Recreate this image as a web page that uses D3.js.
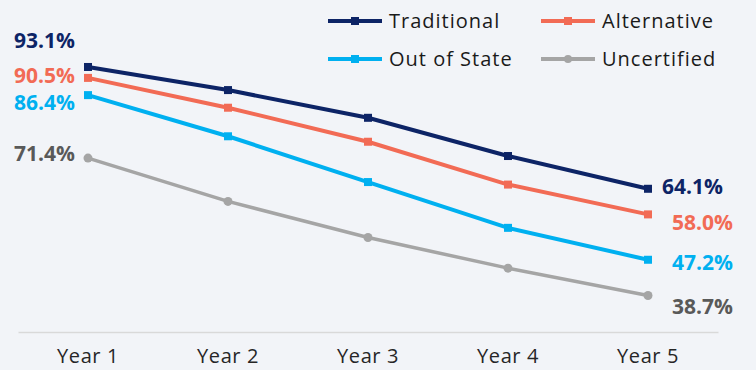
<!DOCTYPE html>
<html>
<head>
<meta charset="utf-8">
<script src="https://cdn.jsdelivr.net/npm/d3@7"></script>
<style>
  body { margin: 0; background: #f2f4f8; }
  svg { display: block; font-family: "Open Sans", sans-serif; }
</style>
</head>
<body>
<script>
// chart data
var years = ['Year 1', 'Year 2', 'Year 3', 'Year 4', 'Year 5'];
var seriesNames = ['Traditional', 'Alternative', 'Out of State', 'Uncertified'];
var traditional = [93.1, 87.6, 81.0, 71.9, 64.1];
var alternative = [90.5, 83.4, 75.3, 65.1, 58.0];
var outOfState = [86.4, 76.6, 65.7, 54.8, 47.2];
var uncertified = [71.4, 61.1, 52.5, 45.2, 38.7];

var colors = ['#0d2466', '#f26b55', '#00b0f0', '#a5a5a5'];
var labelColors = ['#0d2466', '#f26b55', '#00b0f0', '#595959'];
var markers = ['square', 'square', 'square', 'circle'];

var series = seriesNames.map(function(name, i) {
    return {
        name: name,
        values: [traditional, alternative, outOfState, uncertified][i],
        color: colors[i],
        labelColor: labelColors[i],
        marker: markers[i]
    };
});

var width = 756, height = 370;

var x = d3.scaleBand()
    .domain(years)
    .range([18, 718]);
var y = d3.scaleLinear()
    .domain([30, 100])
    .range([332, 38]);

var svg = d3.select('body').append('svg')
    .attr('width', width)
    .attr('height', height);

svg.append('rect')
    .attr('width', width)
    .attr('height', height)
    .attr('fill', '#f2f4f8');

// x axis
var xAxis = d3.axisBottom(x).tickSize(0).tickPadding(17);
var gx = svg.append('g')
    .attr('transform', 'translate(0,' + y(30) + ')')
    .call(xAxis);
gx.select('.domain').attr('stroke', '#d9d9d9').attr('stroke-width', 1.5);
gx.selectAll('text')
    .attr('font-size', 20)
    .attr('letter-spacing', 0.6)
    .attr('fill', '#262626')
    .attr('font-family', '"Open Sans", sans-serif');

function cx(d, i) { return x(years[i]) + x.bandwidth() / 2; }

var line = d3.line()
    .x(cx)
    .y(function(d) { return y(d); });

var g = svg.selectAll('.series')
    .data(series)
  .enter().append('g')
    .attr('class', 'series');

g.append('path')
    .attr('d', function(d) { return line(d.values); })
    .attr('fill', 'none')
    .attr('stroke', function(d) { return d.color; })
    .attr('stroke-width', function(d) { return d.marker === 'circle' ? 3.5 : 4; });

g.each(function(s) {
    var sel = d3.select(this);
    if (s.marker === 'square') {
        sel.selectAll('rect')
            .data(s.values)
          .enter().append('rect')
            .attr('x', function(d, i) { return cx(d, i) - 4; })
            .attr('y', function(d) { return y(d) - 4; })
            .attr('width', 8)
            .attr('height', 8)
            .attr('fill', s.color);
    } else {
        sel.selectAll('circle')
            .data(s.values)
          .enter().append('circle')
            .attr('cx', cx)
            .attr('cy', function(d) { return y(d); })
            .attr('r', 4.5)
            .attr('fill', s.color);
    }
});

// end labels (nudged so they don't collide)
var leftDy = [-26, -2, 8, -4];
var rightDx = [14, 24, 24, 24];
var rightDy = [-2, 8, 3, 11];

g.append('text')
    .attr('x', x(years[0]) + x.bandwidth() / 2 - 13)
    .attr('y', function(d, i) { return y(d.values[0]) + leftDy[i]; })
    .attr('dy', '0.35em')
    .attr('text-anchor', 'end')
    .attr('font-size', 21)
    .attr('font-weight', 700)
    .attr('fill', function(d) { return d.labelColor; })
    .text(function(d) { return d.values[0].toFixed(1) + '%'; });

g.append('text')
    .attr('x', function(d, i) { return x(years[4]) + x.bandwidth() / 2 + rightDx[i]; })
    .attr('y', function(d, i) { return y(d.values[4]) + rightDy[i]; })
    .attr('dy', '0.35em')
    .attr('font-size', 21)
    .attr('font-weight', 700)
    .attr('fill', function(d) { return d.labelColor; })
    .text(function(d) { return d.values[4].toFixed(1) + '%'; });

// legend
var legend = svg.append('g').attr('class', 'legend');
var legendX = [328, 541], legendY = [21, 59];
var li = legend.selectAll('g')
    .data(series)
  .enter().append('g')
    .attr('transform', function(d, i) {
        return 'translate(' + legendX[i % 2] + ',' + legendY[Math.floor(i / 2)] + ')';
    });
li.append('line')
    .attr('x1', 0).attr('x2', 54)
    .attr('stroke', function(d) { return d.color; })
    .attr('stroke-width', 4);
li.filter(function(d) { return d.marker === 'square'; })
    .append('rect')
    .attr('x', 23).attr('y', -4).attr('width', 8).attr('height', 8)
    .attr('fill', function(d) { return d.color; });
li.filter(function(d) { return d.marker === 'circle'; })
    .append('circle')
    .attr('cx', 27).attr('r', 4)
    .attr('fill', function(d) { return d.color; });
li.append('text')
    .attr('x', 61)
    .attr('dy', '0.35em')
    .attr('font-size', 20)
    .attr('letter-spacing', 1)
    .attr('fill', '#1a1a1a')
    .text(function(d) { return d.name; });
</script>
</body>
</html>
